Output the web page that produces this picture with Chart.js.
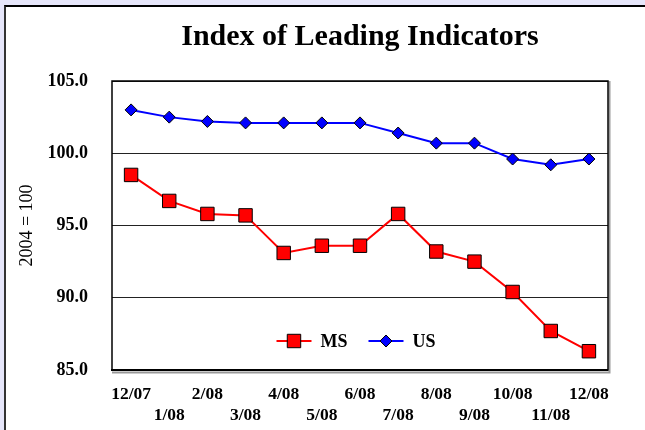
<!DOCTYPE html>
<html>
<head>
<meta charset="utf-8">
<script src="https://cdn.jsdelivr.net/npm/chart.js@4.4.1/dist/chart.umd.min.js"></script>
<style>
  html, body { margin: 0; padding: 0; background: #e6e6fa; overflow: hidden; }
  #panel { position: absolute; left: 4px; top: 5px; width: 700px; height: 500px; background: #fff; border-top: 2px solid #000; border-left: 2px solid #333; }
  #chart { position: absolute; left: 0; top: 0; }
</style>
</head>
<body>
<div id="panel"></div>
<canvas id="chart" width="645" height="430"></canvas>
<script>
const months = ["12/07","1/08","2/08","3/08","4/08","5/08","6/08","7/08","8/08","9/08","10/08","11/08","12/08"];
const msValues = [98.5, 96.7, 95.8, 95.7, 93.1, 93.6, 93.6, 95.8, 93.2, 92.5, 90.4, 87.7, 86.3];
const usValues = [103.0, 102.5, 102.2, 102.1, 102.1, 102.1, 102.1, 101.4, 100.7, 100.7, 99.6, 99.2, 99.6];
const yTicks = [85, 90, 95, 100, 105];
const titleText = "Index of Leading Indicators";
const yTitle = "2004 = 100";

const serif = "'Liberation Serif', 'Times New Roman', serif";

const framePlugin = {
  id: "frame",
  beforeDatasetsDraw(chart) {
    const { ctx, chartArea: a } = chart;
    ctx.save();
    ctx.strokeStyle = "#999";
    ctx.lineWidth = 2;
    ctx.beginPath();
    ctx.moveTo(a.right + 1.5, a.top);
    ctx.lineTo(a.right + 1.5, a.bottom + 3);
    ctx.moveTo(a.left, a.bottom + 2.5);
    ctx.lineTo(a.right + 2.5, a.bottom + 2.5);
    ctx.stroke();
    ctx.strokeStyle = "#000";
    ctx.lineWidth = 1.5;
    ctx.strokeRect(a.left, a.top, a.right - a.left, a.bottom - a.top);
    ctx.lineWidth = 2;
    ctx.beginPath();
    ctx.moveTo(a.left - 1, a.bottom);
    ctx.lineTo(a.right, a.bottom);
    ctx.stroke();
    ctx.restore();
  }
};

const legendPlugin = {
  id: "innerLegend",
  afterDatasetsDraw(chart) {
    const { ctx, chartArea: a } = chart;
    const lineLen = 35, textGap = 9, itemGap = 21;
    ctx.save();
    ctx.font = "bold 18px " + serif;
    const items = chart.data.datasets.map(ds => ({ ds, w: lineLen + textGap + ctx.measureText(ds.label).width }));
    const total = items.reduce((s, it) => s + it.w, 0) + itemGap * (items.length - 1);
    let x = (a.left + a.right) / 2 - 4 - total / 2;
    const y = a.bottom - 29;
    items.forEach(it => {
      const ds = it.ds;
      ctx.strokeStyle = ds.borderColor;
      ctx.lineWidth = ds.borderWidth;
      ctx.beginPath();
      ctx.moveTo(x, y);
      ctx.lineTo(x + lineLen, y);
      ctx.stroke();
      ctx.fillStyle = ds.pointBackgroundColor;
      ctx.strokeStyle = ds.pointBorderColor;
      ctx.lineWidth = ds.pointBorderWidth;
      Chart.helpers.drawPoint(ctx, { pointStyle: ds.pointStyle, radius: ds.pointRadius, rotation: 0, borderWidth: ds.pointBorderWidth }, x + lineLen / 2, y);
      ctx.fillStyle = "#000";
      ctx.textBaseline = "middle";
      ctx.textAlign = "left";
      ctx.fillText(ds.label, x + lineLen + textGap, y + 1.5);
      x += it.w + itemGap;
    });
    ctx.restore();
  }
};

new Chart(document.getElementById("chart"), {
  type: "line",
  data: {
    labels: months,
    datasets: [
      {
        label: "MS",
        data: msValues,
        borderColor: "#ff0000",
        borderWidth: 2,
        pointStyle: "rect",
        pointRadius: 9.5,
        pointBackgroundColor: "#ff0000",
        pointBorderColor: "#000",
        pointBorderWidth: 1,
        tension: 0
      },
      {
        label: "US",
        data: usValues,
        borderColor: "#0000ff",
        borderWidth: 2,
        pointStyle: "rectRot",
        pointRadius: 6,
        pointBackgroundColor: "#0000ff",
        pointBorderColor: "#000",
        pointBorderWidth: 1,
        tension: 0
      }
    ]
  },
  options: {
    responsive: false,
    animation: false,
    layout: { padding: { left: 0, right: 37, top: 0, bottom: 0 } },
    plugins: {
      legend: { display: false },
      tooltip: { enabled: false },
      title: {
        display: true,
        text: titleText,
        fullSize: false,
        color: "#000",
        font: { family: serif, size: 30, weight: "bold", lineHeight: 1.2 },
        padding: { top: 19, bottom: 26 }
      }
    },
    scales: {
      x: {
        type: "category",
        offset: true,
        grid: { display: false, drawTicks: false },
        border: { display: false },
        ticks: {
          autoSkip: false,
          maxRotation: 0,
          minRotation: 0,
          padding: 14,
          color: "#000",
          font: { family: serif, size: 17.5, weight: "bold", lineHeight: 1.2 },
          callback(v, i) {
            const l = this.getLabelForValue(v);
            return i % 2 ? ["", l] : [l, ""];
          }
        },
        afterFit(s) { s.height = 60; }
      },
      y: {
        min: yTicks[0],
        max: yTicks[yTicks.length - 1],
        afterBuildTicks(s) { s.ticks = yTicks.map(v => ({ value: v })); },
        grid: { color: "#222", lineWidth: 1, drawTicks: false },
        border: { display: false },
        ticks: {
          padding: 24,
          color: "#000",
          font: { family: serif, size: 18, weight: "bold" },
          callback: v => v.toFixed(1)
        },
        title: {
          display: true,
          text: yTitle,
          color: "#000",
          font: { family: serif, size: 18 },
          padding: { top: 16, bottom: 0 }
        },
        afterFit(s) { s.width = 112; }
      }
    }
  },
  plugins: [framePlugin, legendPlugin]
});
</script>
</body>
</html>
